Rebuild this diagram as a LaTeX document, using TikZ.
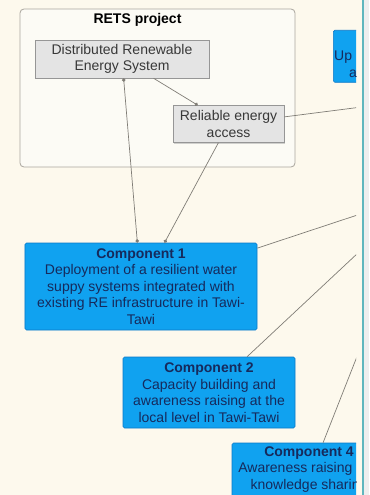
\documentclass[tikz,border=0pt]{standalone}
\usepackage{fontspec}
\setmainfont{Liberation Sans}
\usetikzlibrary{arrows.meta,shadows}

\definecolor{paper}{RGB}{253,249,237}
\definecolor{framefill}{RGB}{252,251,245}
\definecolor{frameline}{RGB}{170,166,158}
\definecolor{grayfill}{RGB}{228,228,228}
\definecolor{grayline}{RGB}{150,150,150}
\definecolor{compfill}{RGB}{16,162,240}
\definecolor{compline}{RGB}{12,120,200}
\definecolor{compText}{RGB}{22,42,92}
\definecolor{linkgray}{RGB}{128,125,118}
\definecolor{panelline}{RGB}{95,182,190}
\definecolor{panelgray}{RGB}{238,238,238}

\begin{document}
\begin{tikzpicture}[x=1bp,y=-1bp]
  \tikzset{FrameStyle/.style = {draw         = frameline,
                                fill         = framefill,
                                rounded corners = 4bp,
                                line width   = 0.8bp},
           GrayBox/.style    = {draw         = grayline,
                                fill         = grayfill,
                                text         = black!78,
                                align        = center,
                                inner sep    = 2bp,
                                line width   = 0.6bp,
                                drop shadow  = {shadow xshift=1bp, shadow yshift=-1.2bp, fill=black!35},
                                font         = \fontsize{14bp}{16.5bp}\selectfont},
           CompBox/.style    = {draw         = compline,
                                fill         = compfill,
                                text         = compText,
                                align        = center,
                                inner sep    = 2bp,
                                rounded corners = 1.5bp,
                                line width   = 0.6bp,
                                font         = \fontsize{14bp}{16.5bp}\selectfont},
           LinkStyle/.style  = {draw = linkgray, line width = 0.7bp},
           DotTip/.style     = {-{Circle[length=3.5bp]}}}
  \useasboundingbox (0,0) rectangle (369,495);
  \fill[paper] (0,0) rectangle (369,495);
  \fill[panelgray] (364,0) rectangle (369,495);
  \draw[panelline, line width=1.4bp] (363,0) -- (363,495);
  \begin{scope}
    \clip (0,0) rectangle (356,495);
    %%% RETS PROJECT %%%
    \node[FrameStyle, minimum width=275bp, minimum height=158bp] (rets) at (157.5,88) {};
    \node[font=\fontsize{14bp}{16.5bp}\selectfont\bfseries] (retstitle) at (137.5,20) {RETS project};
    \node[GrayBox, minimum width=174bp, minimum height=38bp] (dres) at (122,59) {Distributed Renewable\\Energy System};
    \node[GrayBox, minimum width=111bp, minimum height=37bp] (rel) at (228.5,124) {Reliable energy\\access};
    %%% COMPONENTS %%%
    \node[CompBox, minimum width=232bp, minimum height=87bp] (c1) at (141,286.5)
      {\textbf{Component 1}\\Deployment of a resilient water\\suppy systems integrated with\\existing RE infrastructure in Tawi-\\Tawi};
    \node[CompBox, minimum width=172bp, minimum height=71bp] (c2) at (209,392.5)
      {\textbf{Component 2}\\Capacity building and\\awareness raising at the\\local level in Tawi-Tawi};
    \node[CompBox, minimum width=154bp, minimum height=71bp] (c4) at (309,478.5)
      {\textbf{Component 4}\\Awareness raising\hphantom{ and}\\knowledge sharing\\\strut};
    \node[CompBox, minimum width=130bp, minimum height=52bp, anchor=north west] (c3) at (333,30) {};
    \node[anchor=west, text=compText, inner sep=0pt, font=\fontsize{14bp}{16.5bp}\selectfont] (c3up) at (334,57) {Up};
    \node[anchor=west, text=compText, inner sep=0pt, font=\fontsize{14bp}{16.5bp}\selectfont] (c3a) at (349,74) {a};
    % off the right edge
    \coordinate (hub) at (421,194);
    \coordinate (offR) at (440,97);
    %%% LINKS %%%
    \draw[LinkStyle, {Circle[length=3.5bp]}-{Circle[length=3.5bp]}] (dres) -- (c1);
    \draw[LinkStyle, DotTip] (dres) -- (rel);
    \draw[LinkStyle, DotTip] (rel) -- (c1);
    \draw[LinkStyle] (rel) -- (offR);
    \draw[LinkStyle] (c1) -- (hub);
    \draw[LinkStyle] (c2) -- (hub);
    \draw[LinkStyle] (c4) -- (hub);
  \end{scope}
\end{tikzpicture}
\end{document}
